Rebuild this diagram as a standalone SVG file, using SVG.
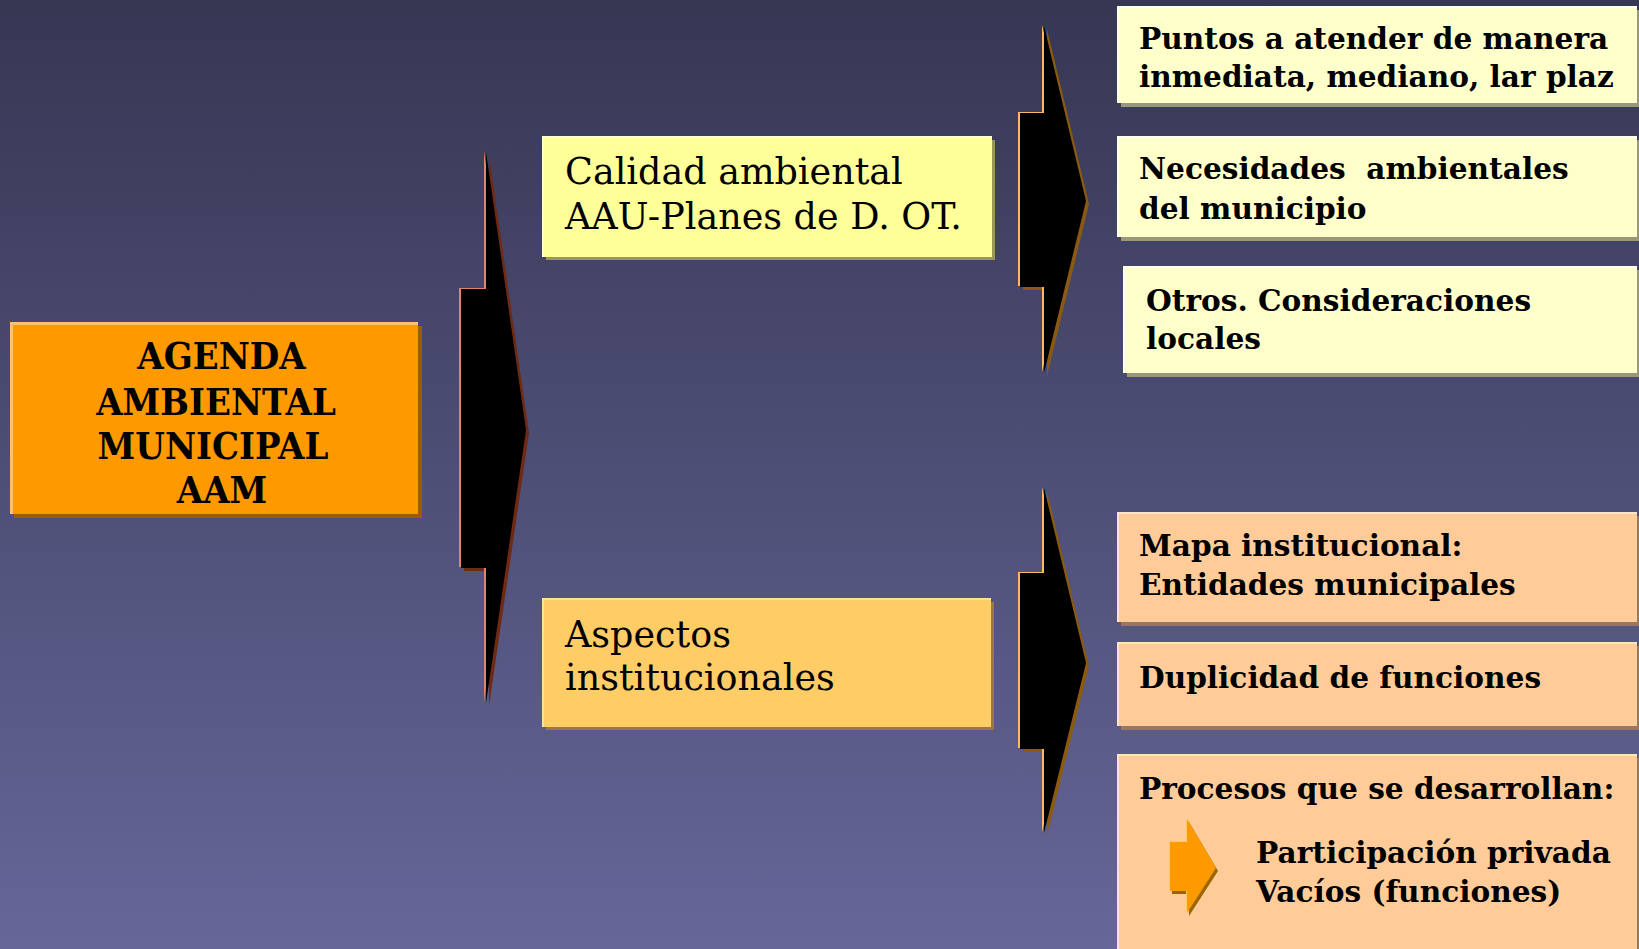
<svg xmlns="http://www.w3.org/2000/svg" width="1639" height="949" viewBox="0 0 1639 949">
<defs>
<linearGradient id="bg" x1="0" y1="0" x2="0" y2="1">
<stop offset="0" stop-color="#363753"/>
<stop offset="1" stop-color="#666699"/>
</linearGradient>
</defs>
<style>
.t{font-family:"DejaVu Serif","Liberation Serif",serif;fill:#000}
.b{font-weight:bold;font-size:29.6px}
.m{font-size:36.5px}
.big{font-weight:bold;font-size:37px}
</style>
<rect x="0" y="0" width="1639" height="949" fill="url(#bg)"/>

<g id="connectors">
  <g id="arrow-main">
    <polygon transform="translate(3,3)" fill="#6E2A12" points="486,152 526,430 486,703 486,568 461,568 461,289 486,289"/>
    <polygon transform="translate(-2,-1)" fill="#E0846C" points="486,152 526,430 486,703 486,568 461,568 461,289 486,289"/>
    <polygon fill="#000" points="486,152 526,430 486,703 486,568 461,568 461,289 486,289"/>
  </g>
  <g id="arrow-top">
    <polygon transform="translate(3,3)" fill="#8A5A10" points="1044,26 1086,201 1044,373 1044,287 1020,287 1020,113 1044,113"/>
    <polygon transform="translate(-2,-1)" fill="#FFB868" points="1044,26 1086,201 1044,373 1044,287 1020,287 1020,113 1044,113"/>
    <polygon fill="#000" points="1044,26 1086,201 1044,373 1044,287 1020,287 1020,113 1044,113"/>
  </g>
  <g id="arrow-bottom">
    <polygon transform="translate(3,3)" fill="#8A5A10" points="1044,488 1086,663 1044,833 1044,749 1020,749 1020,573 1044,573"/>
    <polygon transform="translate(-2,-1)" fill="#FFB868" points="1044,488 1086,663 1044,833 1044,749 1020,749 1020,573 1044,573"/>
    <polygon fill="#000" points="1044,488 1086,663 1044,833 1044,749 1020,749 1020,573 1044,573"/>
  </g>
</g>

<g id="node-aam">
  <rect x="14" y="326" width="408" height="192" fill="#A05A00"/>
  <rect x="10" y="322" width="408" height="192" fill="#FFC266"/>
  <rect x="13" y="325" width="405" height="189" fill="#FF9900"/>
  <g class="t big" text-anchor="middle">
    <text transform="translate(221.5,369) scale(0.92,1)">AGENDA</text>
    <text transform="translate(216,415) scale(0.92,1)">AMBIENTAL</text>
    <text transform="translate(213,459) scale(0.92,1)">MUNICIPAL</text>
    <text transform="translate(222,503) scale(0.92,1)">AAM</text>
  </g>
</g>

<g id="node-calidad">
  <rect x="546" y="140" width="449" height="120" fill="#999955"/>
  <rect x="542" y="136" width="450" height="121" fill="#FFFFCC"/>
  <rect x="544" y="138" width="448" height="119" fill="#FFFF99"/>
  <text class="t m"><tspan x="565" y="184">Calidad ambiental</tspan><tspan x="565" y="229">AAU-Planes de D. OT.</tspan></text>
</g>

<g id="node-aspectos">
  <rect x="546" y="602" width="448" height="128" fill="#997A3D"/>
  <rect x="542" y="598" width="449" height="129" fill="#FFE0A0"/>
  <rect x="544" y="600" width="447" height="127" fill="#FFCC66"/>
  <text class="t m"><tspan x="565" y="647">Aspectos</tspan><tspan x="565" y="690">institucionales</tspan></text>
</g>

<g id="node-puntos">
  <rect x="1121" y="10" width="520" height="97" fill="#99997A"/>
  <rect x="1117" y="6" width="520" height="97" fill="#FFFFEE"/>
  <rect x="1119" y="8" width="518" height="95" fill="#FFFFCC"/>
  <text class="t b"><tspan x="1139" y="49">Puntos a atender de manera</tspan><tspan x="1139" y="87">inmediata, mediano, lar plaz</tspan></text>
</g>

<g id="node-necesidades">
  <rect x="1121" y="140" width="520" height="101" fill="#99997A"/>
  <rect x="1117" y="136" width="520" height="101" fill="#FFFFEE"/>
  <rect x="1119" y="138" width="518" height="99" fill="#FFFFCC"/>
  <text class="t b" xml:space="preserve"><tspan x="1139" y="179">Necesidades  ambientales</tspan><tspan x="1139" y="219">del municipio</tspan></text>
</g>

<g id="node-otros">
  <rect x="1127" y="270" width="514" height="107" fill="#99997A"/>
  <rect x="1123" y="266" width="514" height="107" fill="#FFFFEE"/>
  <rect x="1125" y="268" width="512" height="105" fill="#FFFFCC"/>
  <text class="t b"><tspan x="1146" y="311">Otros. Consideraciones</tspan><tspan x="1146" y="349">locales</tspan></text>
</g>

<g id="node-mapa">
  <rect x="1121" y="516" width="520" height="110" fill="#99795C"/>
  <rect x="1117" y="512" width="520" height="110" fill="#FFE4CC"/>
  <rect x="1119" y="514" width="518" height="108" fill="#FFCC99"/>
  <text class="t b"><tspan x="1139" y="556">Mapa institucional:</tspan><tspan x="1139" y="595">Entidades municipales</tspan></text>
</g>

<g id="node-duplicidad">
  <rect x="1121" y="646" width="520" height="84" fill="#99795C"/>
  <rect x="1117" y="642" width="520" height="84" fill="#FFE4CC"/>
  <rect x="1119" y="644" width="518" height="82" fill="#FFCC99"/>
  <text class="t b"><tspan x="1139" y="688">Duplicidad de funciones</tspan></text>
</g>

<g id="node-procesos">
  <rect x="1121" y="758" width="520" height="200" fill="#99795C"/>
  <rect x="1117" y="754" width="520" height="200" fill="#FFE4CC"/>
  <rect x="1119" y="756" width="518" height="198" fill="#FFCC99"/>
  <text class="t b"><tspan x="1139" y="799">Procesos que se desarrollan:</tspan></text>
  <g id="arrow-small">
    <polygon transform="translate(2,3)" fill="#996600" points="1187,819 1216,868 1187,913 1187,891 1170,891 1170,842 1187,842"/>
    <polygon transform="translate(-1,-1)" fill="#FFCC66" points="1187,819 1216,868 1187,913 1187,891 1170,891 1170,842 1187,842"/>
    <polygon fill="#FF9900" points="1187,819 1216,868 1187,913 1187,891 1170,891 1170,842 1187,842"/>
  </g>
  <text class="t b"><tspan x="1256" y="863">Participación privada</tspan><tspan x="1256" y="902">Vacíos (funciones)</tspan></text>
</g>
</svg>
